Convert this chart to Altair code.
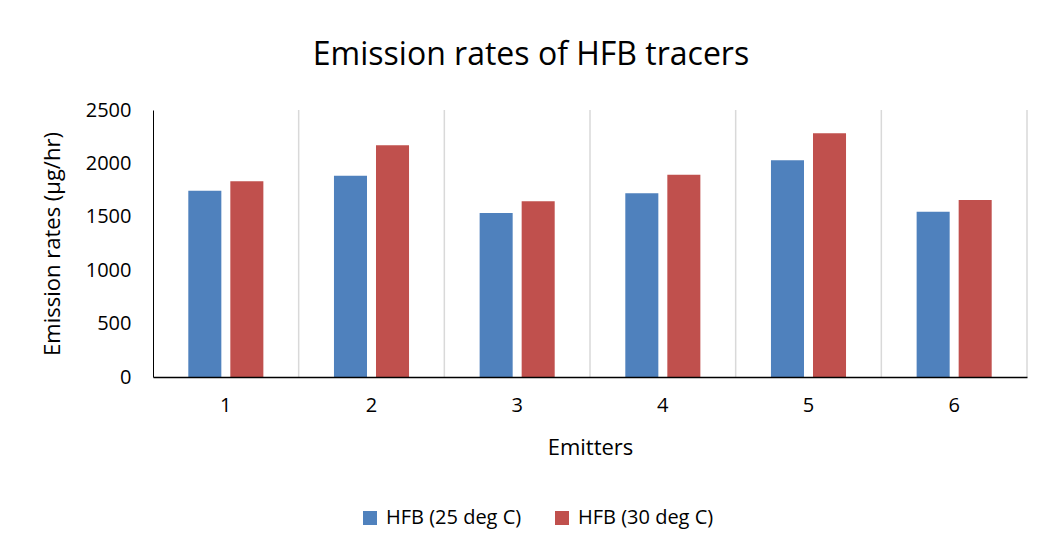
import altair as alt
import pandas as pd

emitters = ["1", "2", "3", "4", "5", "6"]
series = ["HFB (25 deg C)", "HFB (30 deg C)"]
hfb_25 = [1744, 1885, 1536, 1720, 2029, 1548]
hfb_30 = [1832, 2169, 1645, 1894, 2282, 1657]
y_ticks = [0, 500, 1000, 1500, 2000, 2500]
colors = ["#4F81BD", "#C0504D"]

rows = []
for i, e in enumerate(emitters):
    rows.append({"Emitter": e, "Series": series[0], "Value": hfb_25[i]})
    rows.append({"Emitter": e, "Series": series[1], "Value": hfb_30[i]})
df = pd.DataFrame(rows)
grid_df = pd.DataFrame({"Emitter": emitters})

FONT = "Open Sans"

x_scale = alt.Scale(domain=emitters, paddingInner=0, paddingOuter=0)
x_axis = alt.Axis(
    title="Emitters", labelAngle=0, ticks=False, grid=False,
    domainColor="black", domainWidth=1.5, labelFontSize=20, titleFontSize=22,
    labelPadding=18, titlePadding=22, labelColor="black", titleColor="black",
    titleFontWeight="normal", zindex=1,
)

grid = alt.Chart(grid_df).mark_rule(color="#D9D9D9", strokeWidth=1.5).encode(
    x=alt.X("Emitter:N", scale=x_scale, axis=x_axis, bandPosition=1)
)

bars = alt.Chart(df).mark_bar().encode(
    x=alt.X("Emitter:N", scale=x_scale, axis=x_axis),
    xOffset=alt.XOffset("Series:N", sort=series,
                        scale=alt.Scale(domain=series, paddingInner=0.214, paddingOuter=0.84)),
    y=alt.Y("Value:Q", scale=alt.Scale(domain=[0, 2500], nice=False),
            axis=alt.Axis(values=y_ticks, format="d", title="Emission rates (µg/hr)",
                          ticks=False, grid=False, domainColor="black", domainWidth=1,
                          labelFontSize=20, titleFontSize=22, labelPadding=22,
                          titlePadding=21, labelColor="black", titleColor="black",
                          titleFontWeight="normal")),
    color=alt.Color("Series:N", sort=series,
                    scale=alt.Scale(domain=series, range=colors),
                    legend=alt.Legend(title=None, orient="none", legendX=207, legendY=398,
                                      direction="horizontal", symbolType="square",
                                      symbolSize=196, symbolStrokeWidth=0,
                                      labelFontSize=20, labelColor="black",
                                      labelOffset=6, columnPadding=30)),
)

chart = alt.layer(grid, bars).properties(
    width=874,
    height=267,
    title=alt.TitleParams("Emission rates of HFB tracers", fontSize=32, anchor="middle",
                          dx=-59, offset=28, fontWeight="normal", color="black", font=FONT),
    autosize=alt.AutoSizeParams(type="none"),
    padding={"left": 145, "top": 102, "right": 7, "bottom": 163},
).configure(font=FONT).configure_view(stroke=None)

chart.save("out.html", embed_options={"renderer": "svg", "actions": False})
